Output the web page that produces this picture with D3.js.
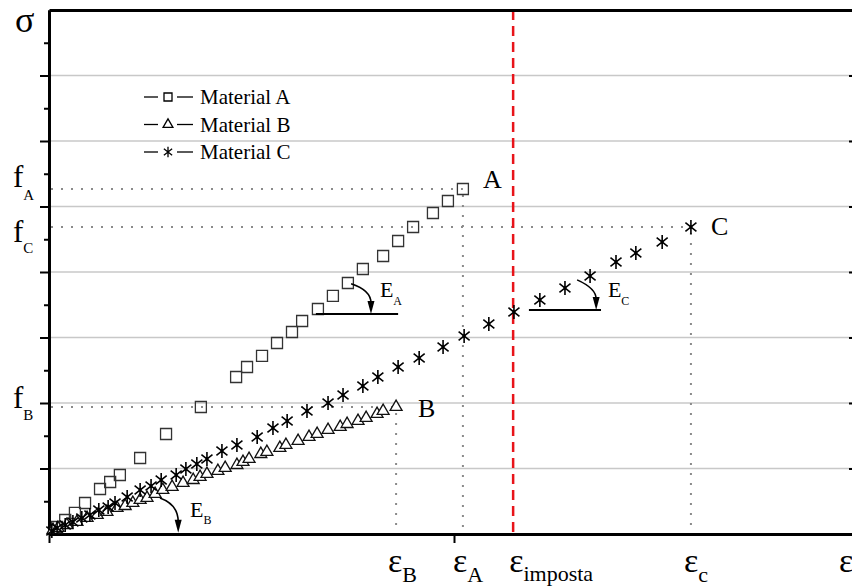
<!DOCTYPE html>
<html>
<head>
<meta charset="utf-8">
<script src="https://cdn.jsdelivr.net/npm/d3@7/dist/d3.min.js"></script>
<style>
body { margin: 0; background: #fff; }
text { font-family: "Liberation Serif", "Times New Roman", serif; fill: #000; }
</style>
</head>
<body>
<script>
// strain values (arbitrary units, 0..2)
var strainA = [0.020, 0.040, 0.064, 0.089, 0.126, 0.151, 0.175, 0.225, 0.289, 0.375, 0.462, 0.489, 0.526,
  0.563, 0.600, 0.625, 0.664, 0.701, 0.738, 0.775, 0.825, 0.862, 0.899, 0.948, 0.985, 1.022];
var stressA = [0.107, 0.214, 0.321, 0.473, 0.687, 0.794, 0.901, 1.160, 1.527, 1.939, 2.397, 2.550, 2.718,
  2.916, 3.084, 3.252, 3.435, 3.634, 3.832, 4.046, 4.244, 4.473, 4.687, 4.901, 5.084, 5.267];

var strainB = [0.010, 0.022, 0.044, 0.069, 0.094, 0.119, 0.143, 0.168, 0.188, 0.207, 0.225, 0.242, 0.262,
  0.281, 0.304, 0.331, 0.356, 0.373, 0.390, 0.417, 0.435, 0.464, 0.479, 0.494, 0.523, 0.538, 0.570,
  0.585, 0.615, 0.642, 0.662, 0.689, 0.719, 0.736, 0.763, 0.783, 0.810, 0.825, 0.857];
var stressB = [0.061, 0.092, 0.137, 0.183, 0.244, 0.290, 0.336, 0.397, 0.427, 0.473, 0.519, 0.550, 0.611,
  0.672, 0.718, 0.779, 0.824, 0.870, 0.916, 0.962, 1.008, 1.053, 1.099, 1.145, 1.221, 1.252, 1.313,
  1.359, 1.420, 1.481, 1.527, 1.588, 1.634, 1.679, 1.725, 1.771, 1.832, 1.878, 1.939];

var strainC = [0.007, 0.020, 0.040, 0.059, 0.081, 0.101, 0.123, 0.146, 0.163, 0.193, 0.225, 0.252, 0.277,
  0.314, 0.338, 0.365, 0.390, 0.427, 0.464, 0.514, 0.553, 0.588, 0.637, 0.689, 0.726, 0.775, 0.812,
  0.862, 0.914, 0.973, 1.025, 1.086, 1.148, 1.212, 1.274, 1.336, 1.400, 1.449, 1.514, 1.585];
var stressC = [0.046, 0.092, 0.137, 0.183, 0.244, 0.290, 0.366, 0.412, 0.473, 0.565, 0.672, 0.733, 0.824,
  0.901, 0.992, 1.069, 1.145, 1.267, 1.359, 1.481, 1.618, 1.725, 1.878, 2.000, 2.122, 2.260, 2.397,
  2.550, 2.687, 2.855, 3.023, 3.206, 3.389, 3.573, 3.756, 3.939, 4.153, 4.290, 4.458, 4.687];

var materials = ["Material A", "Material B", "Material C"];
var imposedStrain = 1.146;

var width = 852,
height = 588;

var x = d3.scaleLinear().domain([0, 2]).range([49, 859]);
var y = d3.scaleLinear().domain([0, 8]).range([534, 10]);

var svg = d3.select("body").append("svg")
.attr("width", width)
.attr("height", height);

// asterisk like the Origin "star" marker: vertical bar plus an X
var symbolStar6 = {
  draw: function(context, size) {
    var r = Math.sqrt(size) / 2;
    var a = 38 * Math.PI / 180;
    var cx = r * Math.cos(a), cy = r * Math.sin(a);
    context.moveTo(0, -r); context.lineTo(0, r);
    context.moveTo(-cx, -cy); context.lineTo(cx, cy);
    context.moveTo(-cx, cy); context.lineTo(cx, -cy);
  }
};

function zip(xs, ys) {
  return xs.map(function(v, i) { return {x: v, y: ys[i]}; });
}
var series = [
  {name: materials[0], pts: zip(strainA, stressA), sym: d3.symbolSquare, size: 121, fill: "none", stroke: "#333", sw: 1.3, lsize: 64},
  {name: materials[1], pts: zip(strainB, stressB), sym: d3.symbolTriangle, size: 62, fill: "#fff", stroke: "#111", sw: 1.3, lsize: 42},
  {name: materials[2], pts: zip(strainC, stressC), sym: symbolStar6, size: 196, fill: "none", stroke: "#000", sw: 1.6, lsize: 110}
];

// grid
svg.append("g").selectAll("line")
  .data(d3.range(1, 8))
  .enter().append("line")
  .attr("x1", x(0)).attr("x2", x(2))
  .attr("y1", function(d) { return y(d); })
  .attr("y2", function(d) { return y(d); })
  .attr("stroke", "#c8c8c8")
  .attr("stroke-width", 1.5);

// dotted reference lines
var peaks = series.map(function(s) { return s.pts[s.pts.length - 1]; });
var dots = svg.append("g")
  .attr("stroke", "#8a8a8a")
  .attr("stroke-width", 2)
  .attr("stroke-dasharray", "2,8");
peaks.forEach(function(p, i) {
  dots.append("line")
    .attr("x1", x(0) + 2).attr("x2", x(p.x))
    .attr("y1", y(p.y)).attr("y2", y(p.y));
  dots.append("line")
    .attr("x1", x(p.x)).attr("x2", x(p.x))
    .attr("y1", y(p.y) + 6).attr("y2", y(i == 2 ? -0.07 : 0));
});

// imposed strain
svg.append("line")
  .attr("x1", x(imposedStrain)).attr("x2", x(imposedStrain))
  .attr("y1", y(8)).attr("y2", y(0))
  .attr("stroke", "#e8141a")
  .attr("stroke-width", 2.5)
  .attr("stroke-dasharray", "10,6");

// axes
var ax = svg.append("g");
ax.append("g")
  .attr("transform", "translate(" + x(0) + ",0)")
  .call(d3.axisLeft(y).tickValues(d3.range(0.5, 8, 1)).tickSize(5).tickSizeOuter(0).tickFormat(""));
ax.append("g")
  .attr("transform", "translate(" + x(0) + ",0)")
  .call(d3.axisLeft(y).tickValues(d3.range(1, 8)).tickSize(9).tickSizeOuter(0).tickFormat(""));
ax.append("g")
  .attr("transform", "translate(" + x(2) + ",0)")
  .call(d3.axisRight(y).tickValues(d3.range(1, 8)).tickSize(-10).tickSizeOuter(0).tickFormat(""));
ax.append("g")
  .attr("transform", "translate(0," + y(0) + ")")
  .call(d3.axisBottom(x).tickValues([0, 1, 2]).tickSize(9).tickSizeOuter(0).tickFormat(""));
ax.append("g")
  .attr("transform", "translate(0," + y(8) + ")")
  .call(d3.axisTop(x).tickValues([]).tickSizeOuter(0));
ax.selectAll(".domain").attr("stroke", "#000").attr("stroke-width", 3);
ax.selectAll(".tick line").attr("stroke", "#000").attr("stroke-width", 2);

// markers
series.forEach(function(s) {
  svg.append("g").selectAll("path")
    .data(s.pts)
    .enter().append("path")
    .attr("transform", function(d) { return "translate(" + x(d.x) + "," + y(d.y) + ")"; })
    .attr("d", d3.symbol().type(s.sym).size(s.size))
    .attr("fill", s.fill)
    .attr("stroke", s.stroke)
    .attr("stroke-width", s.sw);
});
// centre dot of the stars
svg.append("g").selectAll("circle")
  .data(series[2].pts)
  .enter().append("circle")
  .attr("cx", function(d) { return x(d.x); })
  .attr("cy", function(d) { return y(d.y); })
  .attr("r", 1.6);

// legend
var lg = svg.append("g").attr("transform", "translate(144,97)");
series.forEach(function(s, i) {
  var row = lg.append("g").attr("transform", "translate(0," + (i * 27.5) + ")");
  row.append("line").attr("x1", 0).attr("x2", 14).attr("stroke", "#000").attr("stroke-width", 1.3);
  row.append("line").attr("x1", 33).attr("x2", 49).attr("stroke", "#000").attr("stroke-width", 1.3);
  row.append("path")
    .attr("transform", "translate(24,0)")
    .attr("d", d3.symbol().type(s.sym).size(s.lsize))
    .attr("fill", "none")
    .attr("stroke", "#000")
    .attr("stroke-width", 1.3);
  row.append("text")
    .attr("x", 56).attr("y", 7)
    .style("font-size", "21px")
    .text(s.name);
});

// point labels A B C
var names = ["A", "B", "C"];
var nameOff = [[20, -1], [22, 10], [20, 8]];
peaks.forEach(function(p, i) {
  svg.append("text")
    .attr("x", x(p.x) + nameOff[i][0])
    .attr("y", y(p.y) + nameOff[i][1])
    .style("font-size", "26px")
    .text(names[i]);
});

// stress labels f_A f_C f_B
function subLabel(px, py, main, sub, mainSize, subSize, dy) {
  var t = svg.append("text").attr("x", px).attr("y", py).style("font-size", mainSize + "px");
  t.append("tspan").text(main);
  t.append("tspan").attr("dy", dy).style("font-size", subSize + "px").text(sub);
  return t;
}
subLabel(13, y(peaks[0].y) - 2, "f", "A", 31, 15, 13);
subLabel(13, y(peaks[2].y) + 15, "f", "C", 31, 15, 11);
subLabel(13, y(peaks[1].y) + 1, "f", "B", 31, 15, 12);

// strain labels
subLabel(x(peaks[1].x) - 8, 572, "\u03b5", "B", 34, 22, 10);
subLabel(x(peaks[0].x) - 10, 572, "\u03b5", "A", 34, 22, 10);
subLabel(x(imposedStrain) - 4, 572, "\u03b5", "imposta", 34, 22, 9);
subLabel(x(peaks[2].x) - 7, 572, "\u03b5", "c", 34, 22, 10);
svg.append("text").attr("x", 839).attr("y", 572).style("font-size", "34px").text("\u03b5");
svg.append("text").attr("x", 15).attr("y", 32).style("font-size", "36px").text("\u03c3");

// modulus arrows
function modArrow(from, ctrl, tip) {
  var p = d3.path();
  p.moveTo(x(from[0]), y(from[1]));
  p.quadraticCurveTo(x(ctrl[0]), y(ctrl[1]), x(tip[0]), y(tip[1]) - 11);
  svg.append("path").attr("d", p.toString()).attr("fill", "none").attr("stroke", "#000").attr("stroke-width", 1.6);
  var tx = x(tip[0]), ty = y(tip[1]);
  svg.append("path")
    .attr("d", "M" + (tx - 3.5) + "," + (ty - 13) + "L" + (tx + 3.5) + "," + (ty - 13) + "L" + tx + "," + ty + "Z")
    .attr("fill", "#000");
}
// E_A
svg.append("line").attr("x1", x(0.659)).attr("x2", x(0.862)).attr("y1", y(3.36)).attr("y2", y(3.36))
  .attr("stroke", "#000").attr("stroke-width", 2);
modArrow([0.746, 3.82], [0.795, 3.72], [0.795, 3.36]);
subLabel(x(0.817), y(3.62), "E", "A", 22, 12, 8);
// E_C
svg.append("line").attr("x1", x(1.185)).attr("x2", x(1.363)).attr("y1", y(3.42)).attr("y2", y(3.42))
  .attr("stroke", "#000").attr("stroke-width", 2);
modArrow([1.304, 3.88], [1.351, 3.75], [1.351, 3.42]);
subLabel(x(1.380), y(3.62), "E", "C", 22, 12, 8);
// E_B
modArrow([0.274, 0.55], [0.319, 0.45], [0.319, 0.02]);
subLabel(x(0.348), y(0.26), "E", "B", 22, 12, 7);
</script>
</body>
</html>
